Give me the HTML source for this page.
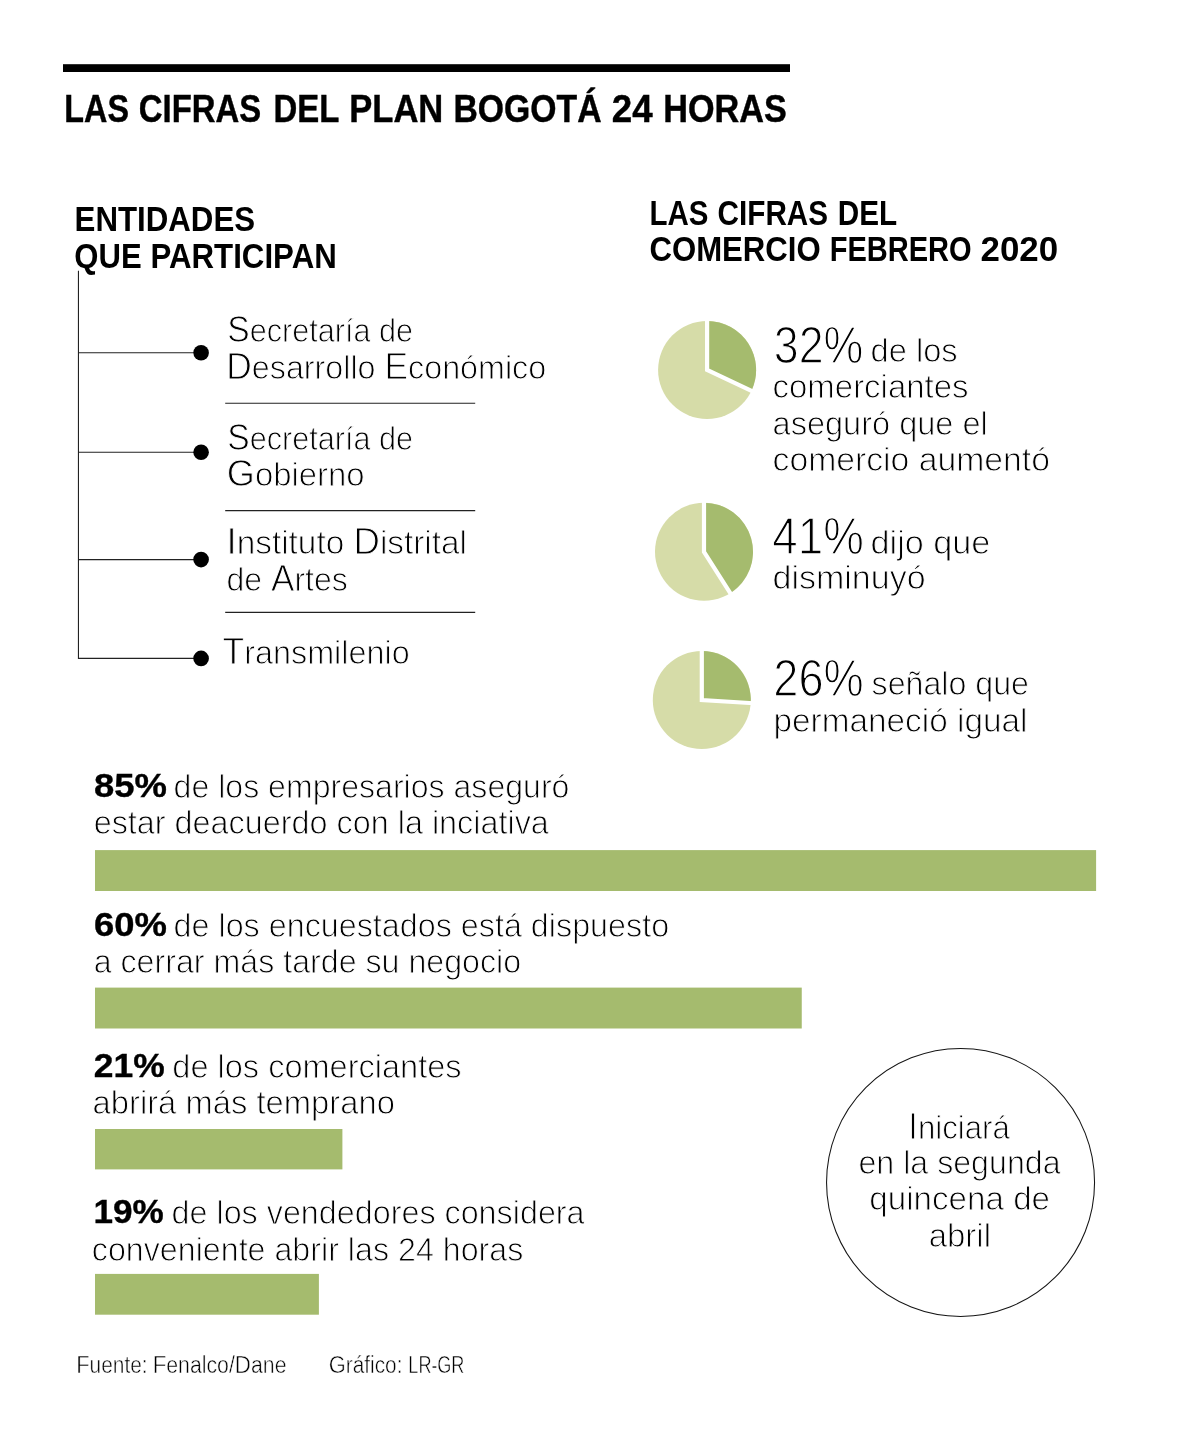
<!DOCTYPE html>
<html lang="es">
<head>
<meta charset="utf-8">
<title>Las cifras del plan Bogotá 24 horas</title>
<style>
html,body{margin:0;padding:0;background:#fff;}
body{width:1200px;height:1442px;position:relative;overflow:hidden;font-family:"Liberation Sans", sans-serif;color:#000;}
svg{position:absolute;left:0;top:0;}
.t{position:absolute;left:0;top:0;white-space:nowrap;line-height:1;transform-origin:0 0;margin:0;padding:0;font-weight:400;}
.txt{position:absolute;left:0;top:0;width:1200px;height:1442px;will-change:transform;}
.h1,.h2,.num{font-weight:700;}
.h1{font-size:39.2px;-webkit-text-stroke:0.45px #000;}
.h2{font-size:35.4px;}
.p{font-size:33.6px;-webkit-text-stroke:0.95px #fff;}
.big{font-size:51.0px;-webkit-text-stroke:1.3px #fff;}
.num{font-size:33.5px;-webkit-text-stroke:0.35px #000;}
.foot{font-size:23.0px;-webkit-text-stroke:0.5px #fff;}
.t b{font-weight:inherit;line-height:0;}
.p b{font-size:1.097em;}
.foot b{font-size:1.05em;}
h1,h2,p,ul,li,header,section,aside,footer{margin:0;padding:0;font:inherit;list-style:none;position:static;display:block;}
</style>
</head>
<body>
<svg width="1200" height="1442" viewBox="0 0 1200 1442">
<rect x="63" y="64.2" width="727" height="7.8" fill="#000"/>
<rect x="95" y="850.1" width="1001.1" height="40.9" fill="#a5bb6e"/>
<rect x="95" y="987.6" width="706.75" height="40.9" fill="#a5bb6e"/>
<rect x="95" y="1129" width="247.4" height="40.4" fill="#a5bb6e"/>
<rect x="95" y="1273.9" width="223.9" height="40.8" fill="#a5bb6e"/>
<g fill="none" stroke="#222" stroke-width="1.1">
<path d="M78.45 270.8V658.4H201"/>
<path d="M78.45 352.8H201"/>
<path d="M78.45 452.3H201"/>
<path d="M78.45 559.6H201"/>
<path d="M225.2 403.3H475.2"/>
<path d="M225.2 510.6H475.2"/>
<path d="M225.2 612.4H475.2"/>
</g>
<circle cx="201.1" cy="352.8" r="7.8" fill="#000"/>
<circle cx="201.1" cy="452.3" r="7.8" fill="#000"/>
<circle cx="201.1" cy="559.6" r="7.8" fill="#000"/>
<circle cx="201.1" cy="658.4" r="7.8" fill="#000"/>
<circle cx="707.1" cy="369.9" r="49" fill="#d6dca8"/>
<path d="M707.1 369.9L707.1 320.90A49 49 0 0 1 751.44 390.76Z" fill="#a5bb6e"/>
<path d="M707.1 317.90L707.1 369.9L754.15 392.04" fill="none" stroke="#fff" stroke-width="4.2" stroke-linejoin="miter" stroke-miterlimit="10"/>
<circle cx="704.0" cy="551.8" r="49" fill="#d6dca8"/>
<path d="M704.0 551.8L704.0 502.80A49 49 0 0 1 730.26 593.17Z" fill="#a5bb6e"/>
<path d="M704.0 499.80L704.0 551.8L731.86 595.71" fill="none" stroke="#fff" stroke-width="4.2" stroke-linejoin="miter" stroke-miterlimit="10"/>
<circle cx="701.8" cy="700.0" r="49" fill="#d6dca8"/>
<path d="M701.8 700.0L701.8 651.00A49 49 0 0 1 750.70 703.08Z" fill="#a5bb6e"/>
<path d="M701.8 648.00L701.8 700.0L753.70 703.27" fill="none" stroke="#fff" stroke-width="4.2" stroke-linejoin="miter" stroke-miterlimit="10"/>
<circle cx="960.55" cy="1182.45" r="134" fill="none" stroke="#151515" stroke-width="1.05"/>
</svg>
<div class="txt">
<header>
<h1>
<span class="t h1" style="transform:translate(64.34px,89.45px) scaleX(0.8244)">LAS</span>
<span class="t h1" style="transform:translate(138.85px,89.45px) scaleX(0.8393)">CIFRAS</span>
<span class="t h1" style="transform:translate(273.51px,89.45px) scaleX(0.8407)">DEL</span>
<span class="t h1" style="transform:translate(349.23px,89.45px) scaleX(0.8821)">PLAN</span>
<span class="t h1" style="transform:translate(453.47px,89.45px) scaleX(0.8611)">BOGOTÁ</span>
<span class="t h1" style="transform:translate(611.77px,89.45px) scaleX(0.9365)">24</span>
<span class="t h1" style="transform:translate(663.25px,89.45px) scaleX(0.8730)">HORAS</span>
</h1>
</header>
<section class="ent">
<h2>
<span class="t h2" style="transform:translate(74.53px,201.80px) scaleX(0.8831)">ENTIDADES</span>
<span class="t h2" style="transform:translate(74.32px,238.50px) scaleX(0.8777)">QUE</span>
<span class="t h2" style="transform:translate(150.43px,238.50px) scaleX(0.8830)">PARTICIPAN</span>
</h2>
<ul>
<li>
<span class="t p" style="transform:translate(227.26px,314.16px) scaleX(0.9118)"><b>S</b>ecretaría de</span>
<span class="t p" style="transform:translate(226.26px,351.36px) scaleX(0.9605)"><b>D</b>esarrollo <b>E</b>conómico</span>
</li>
<li>
<span class="t p" style="transform:translate(227.26px,422.26px) scaleX(0.9118)"><b>S</b>ecretaría de</span>
<span class="t p" style="transform:translate(226.86px,458.36px) scaleX(0.9794)"><b>G</b>obierno</span>
</li>
<li>
<span class="t p" style="transform:translate(226.55px,526.36px) scaleX(0.9928)"><b>I</b>nstituto <b>D</b>istrital</span>
<span class="t p" style="transform:translate(226.49px,563.36px) scaleX(0.9527)">de <b>A</b>rtes</span>
</li>
<li>
<span class="t p" style="transform:translate(222.54px,636.46px) scaleX(0.9633)"><b>T</b>ransmilenio</span>
</li>
</ul>
</section>
<section class="com">
<h2>
<span class="t h2" style="transform:translate(649.43px,195.80px) scaleX(0.8331)">LAS</span>
<span class="t h2" style="transform:translate(717.56px,195.80px) scaleX(0.8392)">CIFRAS</span>
<span class="t h2" style="transform:translate(837.82px,195.80px) scaleX(0.8392)">DEL</span>
<span class="t h2" style="transform:translate(649.42px,232.40px) scaleX(0.8800)">COMERCIO</span>
<span class="t h2" style="transform:translate(829.66px,232.40px) scaleX(0.8199)">FEBRERO</span>
<span class="t h2" style="transform:translate(980.51px,232.40px) scaleX(0.9851)">2020</span>
</h2>
<p>
<span class="t big" style="transform:translate(773.75px,319.59px) scaleX(0.8778)">32%</span>
<span class="t p" style="transform:translate(870.57px,334.36px) scaleX(0.9716)">de los</span>
<span class="t p" style="transform:translate(772.55px,370.46px) scaleX(0.9815)">comerciantes</span>
<span class="t p" style="transform:translate(772.57px,406.66px) scaleX(0.9687)">aseguró que el</span>
<span class="t p" style="transform:translate(772.52px,442.96px) scaleX(1.0044)">comercio aumentó</span>
</p>
<p>
<span class="t big" style="transform:translate(772.32px,510.79px) scaleX(0.8961)">41%</span>
<span class="t p" style="transform:translate(870.50px,525.56px) scaleX(1.0192)">dijo que</span>
<span class="t p" style="transform:translate(772.51px,561.16px) scaleX(1.0125)">disminuyó</span>
</p>
<p>
<span class="t big" style="transform:translate(773.35px,652.69px) scaleX(0.8858)">26%</span>
<span class="t p" style="transform:translate(871.55px,667.46px) scaleX(0.9577)">señalo que</span>
<span class="t p" style="transform:translate(773.54px,704.16px) scaleX(0.9928)">permaneció igual</span>
</p>
</section>
<section class="enc">
<p>
<span class="t num" style="transform:translate(93.90px,769.25px) scaleX(1.0882)">85%</span>
<span class="t p" style="transform:translate(173.59px,770.06px) scaleX(0.9553)">de los empresarios aseguró</span>
<span class="t p" style="transform:translate(93.68px,806.16px) scaleX(0.9638)">estar deacuerdo con la inciativa</span>
</p>
<p>
<span class="t num" style="transform:translate(93.90px,908.35px) scaleX(1.0882)">60%</span>
<span class="t p" style="transform:translate(173.58px,909.16px) scaleX(0.9618)">de los encuestados está dispuesto</span>
<span class="t p" style="transform:translate(93.69px,945.06px) scaleX(0.9582)">a cerrar más tarde su negocio</span>
</p>
<p>
<span class="t num" style="transform:translate(93.83px,1048.75px) scaleX(1.0562)">21%</span>
<span class="t p" style="transform:translate(172.37px,1049.56px) scaleX(0.9683)">de los comerciantes</span>
<span class="t p" style="transform:translate(92.56px,1086.06px) scaleX(0.9760)">abrirá más temprano</span>
</p>
<p>
<span class="t num" style="transform:translate(93.39px,1195.45px) scaleX(1.0478)">19%</span>
<span class="t p" style="transform:translate(171.58px,1196.26px) scaleX(0.9619)">de los vendedores considera</span>
<span class="t p" style="transform:translate(91.79px,1232.86px) scaleX(0.9593)">conveniente abrir las 24 horas</span>
</p>
</section>
<aside>
<p>
<span class="t p" style="transform:translate(908.37px,1110.56px) scaleX(0.9296)"><b>I</b>niciará</span>
<span class="t p" style="transform:translate(858.49px,1146.36px) scaleX(0.9577)">en la segunda</span>
<span class="t p" style="transform:translate(869.34px,1182.06px) scaleX(0.9875)">quincena de</span>
<span class="t p" style="transform:translate(928.65px,1219.26px) scaleX(0.9827)">abril</span>
</p>
</aside>
<footer>
<p>
<span class="t foot" style="transform:translate(76.17px,1353.81px) scaleX(0.9076)"><b>F</b>uente:</span>
<span class="t foot" style="transform:translate(152.64px,1353.81px) scaleX(0.9247)"><b>F</b>enalco/<b>D</b>ane</span>
</p>
<p>
<span class="t foot" style="transform:translate(328.77px,1353.81px) scaleX(0.9055)"><b>G</b>ráfico:</span>
<span class="t foot" style="transform:translate(408.36px,1353.81px) scaleX(0.7500)"><b>LR</b>-<b>GR</b></span>
</p>
</footer>
</div>
</body>
</html>
